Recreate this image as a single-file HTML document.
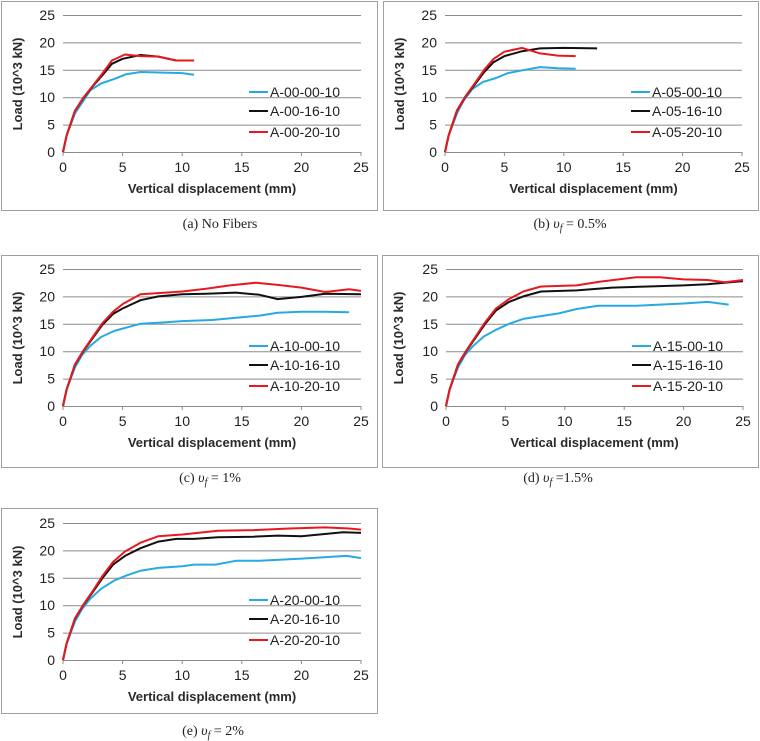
<!DOCTYPE html>
<html><head><meta charset="utf-8"><style>
html,body{margin:0;padding:0;background:#fff;width:760px;height:741px;overflow:hidden}
svg{display:block}
</style></head><body>
<svg id="s" width="760" height="741" xmlns="http://www.w3.org/2000/svg"></svg>
<script>
const V='<tspan font-style="italic">υ</tspan><tspan font-style="italic" font-size="10" dy="3">f</tspan><tspan dy="-3">';
const P=[
 {bx:1,by:1,bw:376,bh:209,x0:63,x1:361,y0:152,cap:"(a)  No Fibers",cy:228,cx:220,pre:"A-00",
  d:[[[0,0],[.3,3],[1,7],[1.6,9],[2.3,11.3],[3.2,12.5],[4.4,13.4],[5.3,14.2],[6.5,14.6],[8,14.5],[10,14.4],[11,14.1]],
     [[0,0],[.3,3],[1,7.5],[1.7,9.8],[2.5,12],[3.3,14],[4.1,16.1],[5,17],[6.5,17.7],[8,17.4],[9.5,16.7],[11,16.7]],
     [[0,0],[.3,3],[1,7.5],[1.7,9.9],[2.5,12.1],[3.3,14.3],[4.1,16.7],[5.2,17.8],[6.5,17.5],[8,17.4],[9.5,16.7],[11,16.7]]]},
 {bx:383,by:1,bw:375,bh:209,x0:445,x1:742,y0:152,cap:"(b) "+V+" = 0.5%</tspan>",cy:228,cx:570,pre:"A-05",
  d:[[[0,0],[.3,3],[1,7],[1.6,9.5],[2.3,11.5],[3.2,12.8],[4.3,13.5],[5.3,14.4],[6.5,14.9],[8,15.5],[9.5,15.3],[11,15.2]],
     [[0,0],[.3,3],[1,7.5],[1.7,10],[2.5,12.3],[3.3,14.6],[4.1,16.4],[5,17.5],[6.5,18.4],[8,18.9],[10,19],[12.8,18.9]],
     [[0,0],[.3,3],[1,7.6],[1.7,10.1],[2.5,12.5],[3.3,15],[4.1,17],[5,18.3],[6.5,19],[8,18],[9.5,17.6],[11,17.5]]]},
 {bx:1,by:255,bw:376,bh:212,x0:63,x1:361,y0:406,cap:"(c) "+V+" = 1%</tspan>",cy:482,cx:210,pre:"A-10",
  d:[[[0,0],[.3,3],[1,7],[1.6,9.3],[2.3,11],[3.2,12.6],[4.3,13.7],[5.3,14.3],[6.5,15],[8,15.2],[10,15.5],[12.5,15.7],[15,16.2],[16.5,16.5],[18,17],[20,17.2],[22,17.2],[24,17.1]],
     [[0,0],[.3,3],[1,7.5],[1.7,10],[2.5,12.4],[3.3,14.8],[4.2,16.8],[5,17.8],[6.5,19.3],[8,20],[10,20.4],[12,20.5],[14.5,20.7],[16.5,20.3],[18,19.5],[20,19.9],[22,20.5],[25,20.4]],
     [[0,0],[.3,3],[1,7.6],[1.7,10.1],[2.5,12.6],[3.3,15.1],[4.2,17.2],[5,18.6],[6.5,20.4],[8,20.6],[10,20.9],[12,21.4],[14,22],[16.2,22.5],[18,22.1],[20,21.6],[22,20.8],[24,21.3],[25,21]]]},
 {bx:382,by:255,bw:376,bh:212,x0:446,x1:743,y0:406,cap:"(d) "+V+" =1.5%</tspan>",cy:482,cx:558,pre:"A-15",
  d:[[[0,0],[.3,3],[1,7],[1.6,9.3],[2.3,11],[3.2,12.7],[4.3,14],[5.3,15],[6.5,15.9],[8,16.4],[9.5,16.9],[11,17.7],[12.8,18.3],[16,18.3],[18,18.5],[20,18.7],[22,19],[23.8,18.5]],
     [[0,0],[.3,3],[1,7.5],[1.7,10],[2.5,12.5],[3.3,15],[4.2,17.4],[5.3,19],[6.5,20],[8,20.9],[11,21.1],[14,21.6],[17,21.8],[20,22],[22,22.2],[25,22.8]],
     [[0,0],[.3,3],[1,7.6],[1.7,10.1],[2.5,12.7],[3.3,15.3],[4.2,17.8],[5.3,19.5],[6.5,20.9],[8,21.8],[11,22],[13,22.7],[16,23.5],[18,23.5],[20,23.1],[22,23],[23.5,22.6],[25,23]]]},
 {bx:1,by:508,bw:376,bh:205,x0:63,x1:361,y0:660,cap:"(e) "+V+" = 2%</tspan>",cy:735,cx:213,pre:"A-20",
  d:[[[0,0],[.3,3],[1,7],[1.6,9.3],[2.3,11.2],[3.2,13],[4.3,14.5],[5.3,15.4],[6.5,16.3],[8,16.8],[10,17.1],[11,17.4],[12.8,17.4],[14.5,18.1],[16.5,18.1],[20,18.5],[23.8,19],[25,18.6]],
     [[0,0],[.3,3],[1,7.5],[1.7,10],[2.5,12.4],[3.3,14.9],[4.2,17.4],[5.2,19],[6.5,20.4],[8,21.6],[9.5,22.1],[11,22.1],[13,22.4],[16,22.5],[18,22.7],[20,22.6],[23.5,23.3],[25,23.2]],
     [[0,0],[.3,3],[1,7.6],[1.7,10.1],[2.5,12.6],[3.3,15.3],[4.2,17.9],[5.2,19.8],[6.5,21.4],[8,22.6],[10,22.9],[13,23.6],[16,23.7],[19,24],[22,24.2],[24,24],[25,23.8]]]}
];
const cols=["#27aae1","#111111","#e8191e"],sfx=["-00-10","-16-10","-20-10"];
let h="";
for(const p of P){
 const sx=(p.x1-p.x0)/25, sy=137/25;
 const X=v=>p.x0+v*sx, Y=v=>p.y0-v*sy;
 h+=`<rect x="${p.bx+.5}" y="${p.by+.5}" width="${p.bw}" height="${p.bh}" fill="#fff" stroke="#a0a0a0"/>`;
 for(let k=1;k<=5;k++) h+=`<line x1="${p.x0}" x2="${p.x1}" y1="${Y(k*5)+.5}" y2="${Y(k*5)+.5}" stroke="#8c8c8c" stroke-width="1"/>`;
 h+=`<line x1="${p.x0}" x2="${p.x1}" y1="${p.y0+.5}" y2="${p.y0+.5}" stroke="#8c8c8c"/>`;
 for(let k=0;k<=5;k++){
  h+=`<line x1="${X(k*5)}" x2="${X(k*5)}" y1="${p.y0}" y2="${p.y0+4}" stroke="#8c8c8c"/>`;
  h+=`<text x="${X(k*5)}" y="${p.y0+20}" text-anchor="middle" font-size="14" fill="#222">${k*5}</text>`;
  h+=`<text x="${p.x0-8}" y="${Y(k*5)+5}" text-anchor="end" font-size="14" fill="#222">${k*5}</text>`;
 }
 h+=`<text x="${(p.x0+p.x1)/2}" y="${p.y0+41}" text-anchor="middle" font-size="13" font-weight="bold" fill="#2a2a2a">Vertical displacement (mm)</text>`;
 h+=`<text transform="translate(${p.bx+21},${p.y0-68}) rotate(-90)" text-anchor="middle" font-size="13" font-weight="bold" fill="#2a2a2a">Load (10^3 kN)</text>`;
 p.d.forEach((s,i)=>{
  h+=`<polyline fill="none" stroke="${cols[i]}" stroke-width="2" stroke-linejoin="round" points="${s.map(q=>X(q[0]).toFixed(1)+","+Y(q[1]).toFixed(1)).join(" ")}"/>`;
 });
 const lx=p.x0+186, ly=[p.y0-60,p.y0-41,p.y0-20];
 for(let i=0;i<3;i++){
  h+=`<line x1="${lx}" x2="${lx+19}" y1="${ly[i]}" y2="${ly[i]}" stroke="${cols[i]}" stroke-width="2"/>`;
  h+=`<text x="${lx+21}" y="${ly[i]+5}" font-size="14" fill="#222">${p.pre+sfx[i]}</text>`;
 }
 h+=`<text x="${p.cx}" y="${p.cy}" text-anchor="middle" font-family="Liberation Serif,serif" font-size="14" fill="#222">${p.cap}</text>`;
}
const s=document.getElementById("s");
s.setAttribute("font-family","Liberation Sans, sans-serif");
s.innerHTML=h;
</script>
</body></html>
